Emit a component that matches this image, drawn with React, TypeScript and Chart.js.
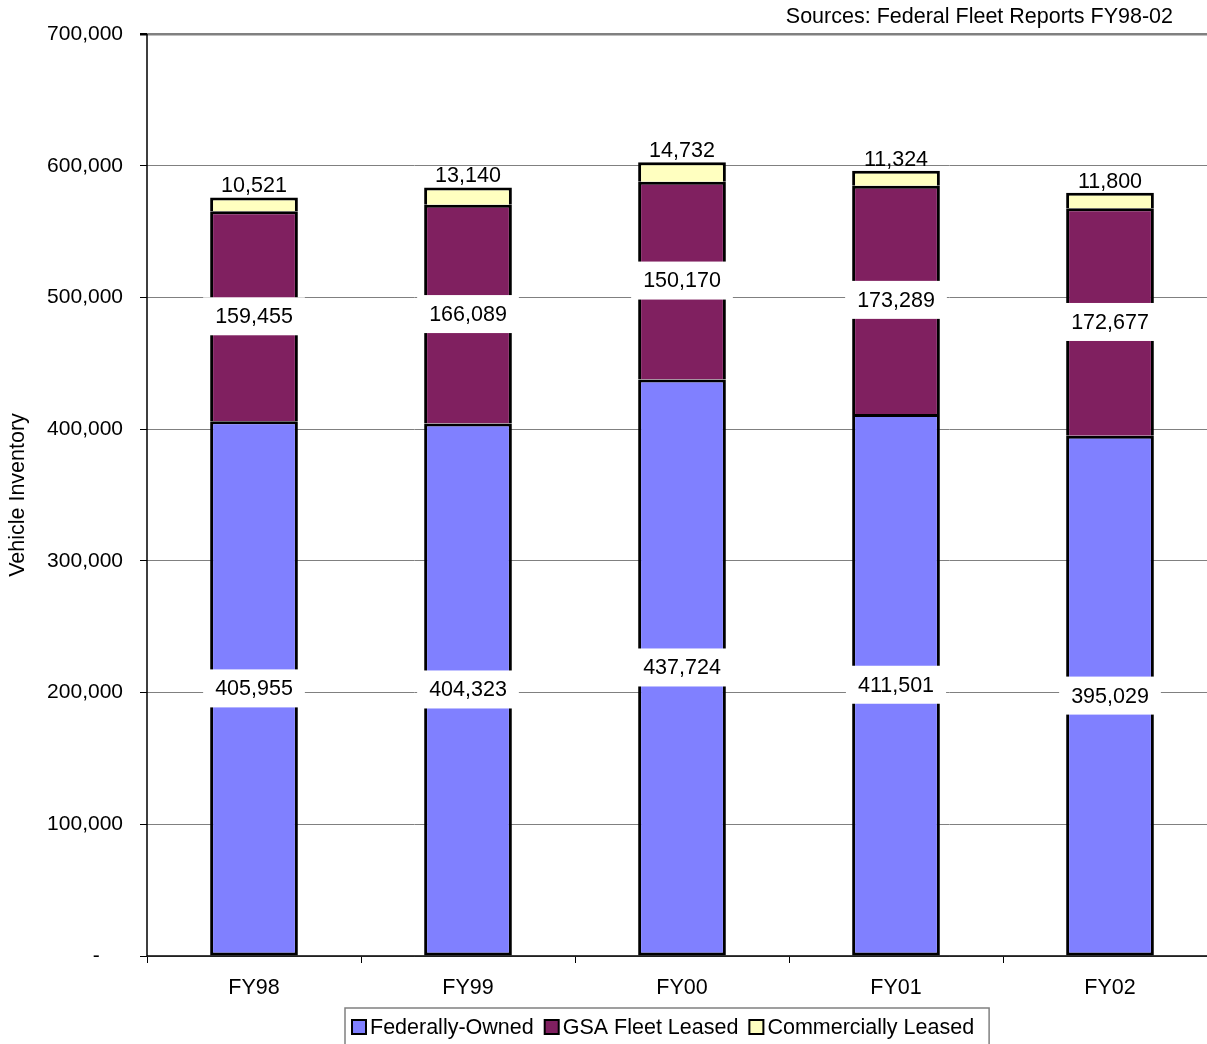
import React, { useEffect, useRef } from "react";
import { Chart, registerables } from "chart.js";

Chart.register(...registerables);

const categories = ["FY98", "FY99", "FY00", "FY01", "FY02"];
const federallyOwned = [405955, 404323, 437724, 411501, 395029];
const gsaFleetLeased = [159455, 166089, 150170, 173289, 172677];
const commerciallyLeased = [10521, 13140, 14732, 11324, 11800];
const seriesNames = ["Federally-Owned", "GSA Fleet Leased", "Commercially Leased"];
const seriesColors = ["#8080FF", "#802060", "#FFFFC0"];
const yTicks = [0, 100000, 200000, 300000, 400000, 500000, 600000, 700000];
const sourceText = "Sources: Federal Fleet Reports FY98-02";
const yTitle = "Vehicle Inventory";

const FONT = "'Liberation Sans', Arial, sans-serif";
const fmt = (v: number) => v.toLocaleString("en-US");

const labelPlugin = {
  id: "labels",
  afterDatasetsDraw(chart: any) {
    const ctx = chart.ctx;
    ctx.save();
    ctx.font = `21.5px ${FONT}`;
    ctx.textAlign = "center";
    ctx.textBaseline = "middle";
    chart.data.datasets.forEach((ds: any, di: number) => {
      const meta = chart.getDatasetMeta(di);
      meta.data.forEach((bar: any, i: number) => {
        const v = ds.data[i];
        const txt = fmt(v);
        if (di < 2) {
          const cy = (bar.y + bar.base) / 2;
          const w = ctx.measureText(txt).width + 24;
          ctx.fillStyle = "#fff";
          ctx.fillRect(bar.x - w / 2, cy - 19, w, 38);
          ctx.fillStyle = "#000";
          ctx.fillText(txt, bar.x, cy + 1);
        } else {
          ctx.fillStyle = "#000";
          ctx.fillText(txt, bar.x, bar.y - 11);
        }
      });
    });
    ctx.restore();
  },
  afterDraw(chart: any) {
    const ctx = chart.ctx;
    const { left, right, top, bottom } = chart.chartArea;
    ctx.save();
    ctx.strokeStyle = "#000";
    ctx.lineWidth = 1.5;
    ctx.beginPath();
    ctx.moveTo(left, top);
    ctx.lineTo(left, bottom);
    ctx.lineTo(right, bottom);
    ctx.stroke();
    ctx.fillStyle = "#000";
    ctx.font = `21.5px ${FONT}`;
    ctx.textAlign = "right";
    ctx.textBaseline = "middle";
    ctx.fillText(sourceText, 1173, 17);
    ctx.save();
    ctx.translate(18, (top + bottom) / 2);
    ctx.rotate(-Math.PI / 2);
    ctx.textAlign = "center";
    ctx.fillText(yTitle, 0, 0);
    ctx.restore();
    ctx.font = `21.5px ${FONT}`;
    ctx.textAlign = "left";
    const lx = 345, ly = 1008;
    let x = lx + 7;
    const cy = 1027;
    let totalEnd = x;
    seriesNames.forEach((n, i) => {
      ctx.fillStyle = seriesColors[i];
      ctx.fillRect(x, cy - 7, 14, 14);
      ctx.strokeStyle = "#000";
      ctx.lineWidth = 2;
      ctx.strokeRect(x, cy - 7, 14, 14);
      ctx.fillStyle = "#000";
      ctx.fillText(n, x + 18, cy + 1);
      const w = ctx.measureText(n).width;
      totalEnd = x + 18 + w;
      x = totalEnd + 11;
    });
    ctx.strokeStyle = "#808080";
    ctx.lineWidth = 1.5;
    ctx.strokeRect(lx, ly, totalEnd + 15 - lx, 40);
    ctx.restore();
  },
};

export default function App() {
  const ref = useRef<HTMLCanvasElement>(null);
  useEffect(() => {
    if (!ref.current) return;
    const chart = new Chart(ref.current, {
      type: "bar",
      data: {
        labels: categories,
        datasets: [federallyOwned, gsaFleetLeased, commerciallyLeased].map((d, i) => ({
          label: seriesNames[i],
          data: d,
          backgroundColor: seriesColors[i],
          borderColor: "#000",
          borderWidth: i === 0 ? 3 : { top: 3, left: 3, right: 3, bottom: 0 },
          borderSkipped: false,
          barPercentage: 0.41,
          categoryPercentage: 1,
        })),
      },
      options: {
        responsive: false,
        animation: false,
        devicePixelRatio: 1,
        layout: { padding: { top: 34, right: 0, left: 0, bottom: 0 } },
        plugins: { legend: { display: false }, tooltip: { enabled: false }, title: { display: false } },
        scales: {
          x: {
            stacked: true,
            afterFit: (s: any) => { s.height = 88; },
            grid: { offset: true, drawOnChartArea: false, drawTicks: true, tickLength: 7, color: "#000", lineWidth: 1 },
            border: { display: false },
            ticks: { color: "#000", font: { family: FONT, size: 21.5 }, padding: 12, maxRotation: 0 },
          },
          y: {
            stacked: true,
            min: 0,
            max: 700000,
            afterFit: (s: any) => { s.width = 147; },
            afterBuildTicks: (s: any) => { s.ticks = yTicks.map((v) => ({ value: v })); },
            grid: {
              color: "#808080",
              lineWidth: (c: any) => (c.tick && c.tick.value === 700000 ? 2.5 : 1),
              tickColor: "#000",
              tickLength: 7,
            },
            border: { display: false },
            ticks: {
              color: "#000",
              font: { family: FONT, size: 21 },
              padding: 17,
              callback: (v: any) => (Number(v) === 0 ? "-    " : fmt(Number(v))),
            },
          },
        },
      },
      plugins: [labelPlugin],
    });
    return () => chart.destroy();
  }, []);
  return (
    <div style={{ position: "absolute", left: 0, top: 0, width: 1207, height: 1044, overflow: "hidden", background: "#fff" }}>
      <canvas ref={ref} width={1217} height={1044} style={{ display: "block" }} />
    </div>
  );
}
